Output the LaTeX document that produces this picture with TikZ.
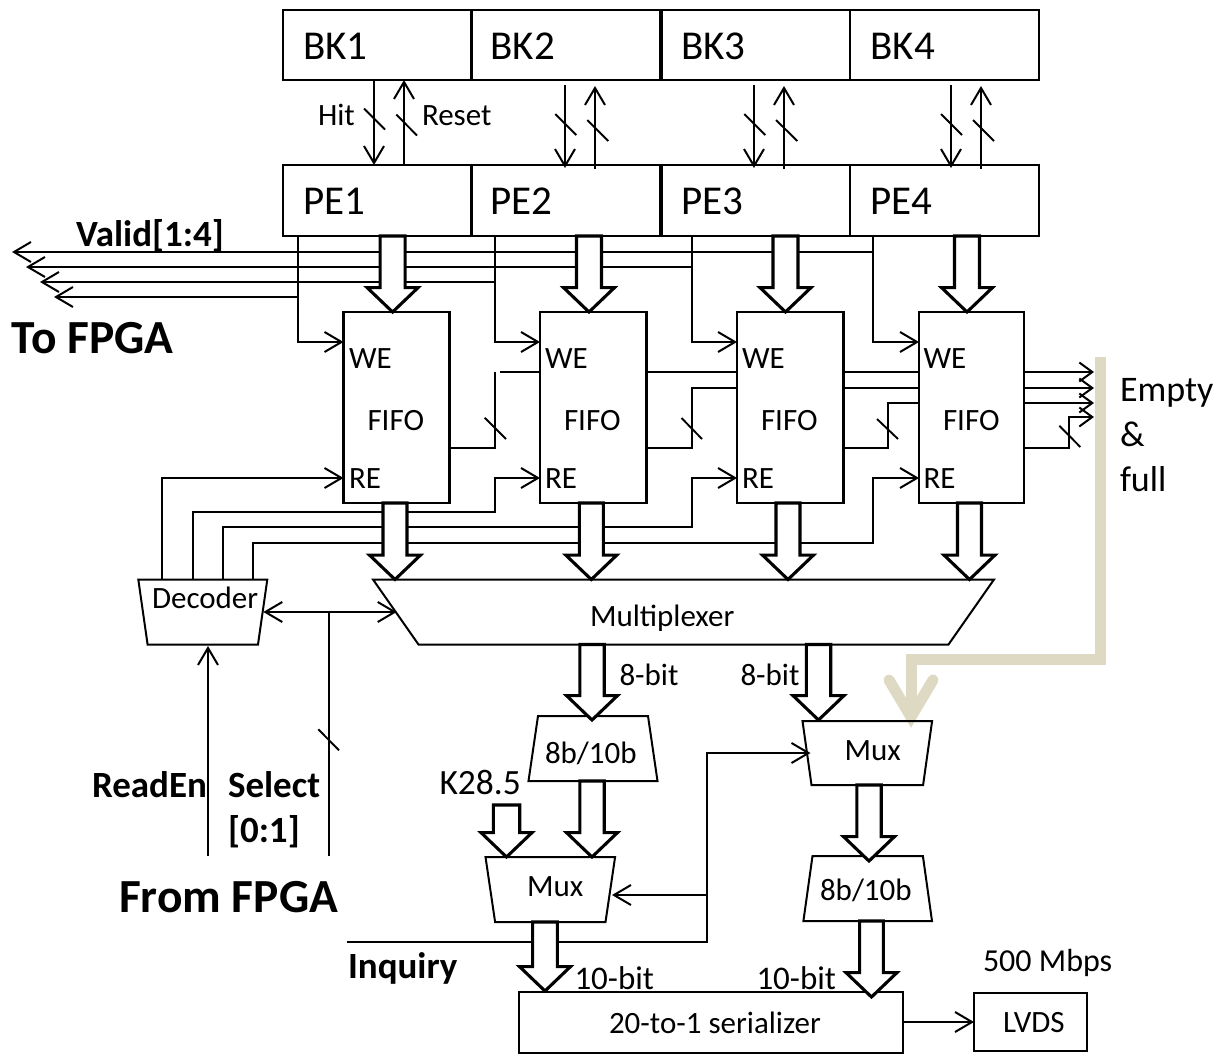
\documentclass[tikz,border=0pt]{standalone}
\usepackage{fontspec}
\setmainfont{Carlito}
\usetikzlibrary{arrows.meta,calc}
\newcommand\fs[2]{\fontsize{#1}{#2}\selectfont}
% box node from corners
\newcommand\pxrect[6]{\node[#6,minimum width={(#4-#2)*1pt},minimum height={(#5-#3)*1pt}] (#1) at ({(#2+#4)/2},{(#3+#5)/2}) {};}
% trapezoid: name, cx, ytop, ybot, top half width, bottom half width
\newcommand\pxtrap[6]{\draw[shp] ({#2-#5},#3) -- ({#2+#5},#3) -- ({#2+#6},#4) -- ({#2-#6},#4) -- cycle;
  \coordinate (#1) at (#2,{(#3+#4)/2});}
% wide arrow: start coordinate, end coordinate, shaft half, head half, head length
\newcommand\widearrow[5]{\draw[wide] ($(#1)+(-#3,0)$) -- ($(#1 |- #2)+(-#3,-#5)$) -- ($(#1 |- #2)+(-#4,-#5)$) -- (#2) -- ($(#1 |- #2)+(#4,-#5)$) -- ($(#1 |- #2)+(#3,-#5)$) -- ($(#1)+(#3,0)$) -- cycle;}
\tikzset{
  x=1pt,y=-1pt,
  box/.style={draw,line width=2pt,inner sep=0pt,outer sep=0pt},
  fifo/.style={draw,line width=2.6pt,inner sep=0pt,outer sep=0pt},
  shp/.style={draw,line width=2pt,line join=miter},
  sig/.style={line width=2pt,line cap=butt},
  sigto/.style={sig,-{Straight Barb[length=17pt,width=20pt,line width=2pt]}},
  sigtwo/.style={sig,{Straight Barb[length=17pt,width=20pt,line width=2pt]}-{Straight Barb[length=17pt,width=20pt,line width=2pt]}},
  sigshort/.style={sig,-{Straight Barb[length=13pt,width=19pt,line width=2pt]}},
  sl/.style={line width=1.9pt},
  wide/.style={draw,fill=white,line width=3.1pt,line join=miter},
  tanline/.style={draw=tanc,line width=11pt,line join=miter},
  lab/.style={inner sep=0pt,outer sep=0pt,anchor=base west,font=\fs{31}{36}},
  big/.style={lab,font=\fs{41}{48}},
  blab/.style={lab,font=\fs{37}{45}\bfseries},
  bbig/.style={lab,font=\fs{47.5}{54}\bfseries},
}
\definecolor{tanc}{HTML}{DDD9C3}
\begin{document}
\begin{tikzpicture}
\useasboundingbox (0,0) rectangle (1221,1054);
% tan arrow
\coordinate (tan0) at (1100,357);
\coordinate (tan1) at (1100,659);
\coordinate (tan2) at (911,659);
\coordinate (tanT) at (911,717);
\coordinate (tanL) at (889,680);
\coordinate (tanR) at (933,680);
\draw[tanline] (tan0) -- (tan1) -- (tan2) -- (tanT);
\draw[tanline,line cap=round] (tanL) -- (tanT) -- (tanR);
% memory row and PE row
\pxrect{bk1}{283}{10}{471}{80}{box}
\pxrect{bk2}{472}{10}{660}{80}{box}
\pxrect{bk3}{662}{10}{850}{80}{box}
\pxrect{bk4}{850}{10}{1039}{80}{box}
\pxrect{pe1}{283}{165}{471}{236}{box}
\pxrect{pe2}{472}{165}{660}{236}{box}
\pxrect{pe3}{662}{165}{850}{236}{box}
\pxrect{pe4}{850}{165}{1039}{236}{box}
\node[big] (bk1t) at (303,59.5) {BK1};
\node[big] (bk2t) at (490.5,59.5) {BK2};
\node[big] (bk3t) at (681,59.5) {BK3};
\node[big] (bk4t) at (870.5,59.5) {BK4};
\node[big] (pe1t) at (303,214.5) {PE1};
\node[big] (pe2t) at (490.5,214.5) {PE2};
\node[big] (pe3t) at (681,214.5) {PE3};
\node[big] (pe4t) at (870.5,214.5) {PE4};
% FIFOs
\pxrect{f1}{343.5}{312}{449.5}{503}{fifo}
\pxrect{f2}{540}{312}{646.7}{503}{fifo}
\pxrect{f3}{737}{312}{843.5}{503}{fifo}
\pxrect{f4}{919}{312}{1024}{503}{fifo}
\foreach \n/\xf/\xw in {f1/367.5/349,f2/564/545,f3/761/742,f4/943/923.5}{
  \node[lab] (\n t) at (\xf,430) {FIFO};
  \node[lab] (\n w) at (\xw,368) {WE};
  \node[lab] (\n r) at (\xw,488) {RE};
}
% trapezoids
\pxtrap{mult}{683.5}{579.5}{644.5}{310.5}{265}
\node[lab] (multt) at (590,626) {Multiplexer};
\pxtrap{dec}{202.8}{579.5}{644.5}{64.5}{55.2}
\node[lab] (dect) at (152,608.5) {Decoder};
\pxtrap{enc1}{593}{716}{781}{55}{64.5}
\node[lab] (enc1t) at (545,763.5) {8b/10b};
\pxtrap{mux1}{550.3}{857}{922}{64.8}{55.2}
\node[lab] (mux1t) at (527,896) {Mux};
\pxtrap{mux2}{867.3}{721}{785}{64.8}{55.8}
\node[lab] (mux2t) at (844.5,760) {Mux};
\pxtrap{enc2}{867.7}{856}{921}{55.2}{64.3}
\node[lab] (enc2t) at (820,900) {8b/10b};
\pxrect{ser}{519}{992}{903}{1052.5}{box}
\node[lab] (sert) at (609,1033) {20-to-1 serializer};
\pxrect{lvds}{974}{993}{1087}{1051}{box}
\node[lab] (lvdst) at (1003,1032) {LVDS};
% Hit / Reset links
\foreach \i/\a/\b/\ha/\hb/\qa/\qb/\ya in {
  1/374/404/364/385/396.3/417/-5.5,
  2/565/595/555.3/576.3/587.3/608.3/0,
  3/754/784/744.3/765.3/776/797.3/0,
  4/951/981/941/962/973/994/0}{
  \coordinate (hs\i) at (\a,85);
  \coordinate (ht\i) at (\a,168);
  \coordinate (qs\i) at (\b,169);
  \coordinate (qt\i) at (\b,86);
  \coordinate (ha\i) at (\ha,{114+\ya});
  \coordinate (hb\i) at (\hb,{135+\ya});
  \coordinate (qa\i) at (\qa,{120+\ya});
  \coordinate (qb\i) at (\qb,{141+\ya});
  \draw[sl] (ha\i) -- (hb\i);
  \draw[sl] (qa\i) -- (qb\i);
}
\draw[sigto] (bk1.south -| hs1) -- (pe1.north -| hs1);
\draw[sigto] (pe1.north -| qs1) -- (bk1.south -| qs1);
\foreach \i in {2,3,4}{
  \draw[sigto] (hs\i) -- (ht\i);
  \draw[sigto] (qs\i) -- (qt\i);
}
% WE lines
\coordinate (w1) at (298,342);
\coordinate (w2) at (495,342);
\coordinate (w3) at (692,342);
\coordinate (w4) at (873,342);
\foreach \i in {1,2,3,4}
  \draw[sigto] (pe\i.south -| w\i) -- (w\i) -- (f\i.west |- w\i);
% Valid outputs
\coordinate (t4) at (12,252);
\coordinate (t3) at (26,267);
\coordinate (t2) at (40,282);
\coordinate (t1) at (54,297);
\foreach \i in {1,2,3,4}
  \draw[sigto] (w\i |- t\i) -- (t\i);
% FIFO flag chain
\coordinate (c1a) at (495,448);
\coordinate (c1b) at (495,372);
\coordinate (c1c) at (499.5,372);
\draw[sig] (f1.east |- c1a) -- (c1a) -- (c1b);
\draw[sig] (c1c) -- (f2.west |- c1c);
\coordinate (c2a) at (692,448);
\coordinate (c2b) at (692,388);
\draw[sig] (f2.east |- c2a) -- (c2a) -- (c2b) -- (f3.west |- c2b);
\coordinate (c3a) at (888,448);
\coordinate (c3b) at (888,403);
\draw[sig] (f3.east |- c3a) -- (c3a) -- (c3b) -- (f4.west |- c3b);
\draw[sig] (f2.east |- c1c) -- (f3.west |- c1c);
\draw[sig] (f3.east |- c1c) -- (f4.west |- c1c);
\draw[sig] (f3.east |- c2b) -- (f4.west |- c2b);
% Empty and full outputs
\coordinate (e1) at (1094,372);
\coordinate (e2) at (1094,388);
\coordinate (e3) at (1094,403);
\coordinate (e4) at (1094,417);
\coordinate (e4a) at (1069,448);
\draw[sigshort] (f4.east |- e1) -- (e1);
\draw[sigshort] (f4.east |- e2) -- (e2);
\draw[sigshort] (f4.east |- e3) -- (e3);
\draw[sigshort] (f4.east |- e4a) -- (e4a) -- (e4a |- e4) -- (e4);
\draw[sl] (484.6,417.7) -- (506,439);
\draw[sl] (681.5,418) -- (702,439);
\draw[sl] (877,419) -- (898,439);
\draw[sl] (1059.3,425.7) -- (1080.3,447);
% RE lines
\coordinate (r1) at (162,478);
\coordinate (r2) at (495,478);
\coordinate (r3) at (692,478);
\coordinate (r4) at (873,478);
\coordinate (d2) at (193,512);
\coordinate (d3) at (223,527);
\coordinate (d4) at (253,543);
\coordinate (dectop) at (162,579.5);
\draw[sigto] (dectop) -- (r1) -- (f1.west |- r1);
\draw[sigto] (d2 |- dectop) -- (d2) -- (r2 |- d2) -- (r2) -- (f2.west |- r2);
\draw[sigto] (d3 |- dectop) -- (d3) -- (r3 |- d3) -- (r3) -- (f3.west |- r3);
\draw[sigto] (d4 |- dectop) -- (d4) -- (r4 |- d4) -- (r4) -- (f4.west |- r4);
% decoder / multiplexer
\coordinate (dr) at (263.3,612);
\coordinate (ml) at (396.7,612);
\coordinate (sel) at (329,612);
\coordinate (selb) at (329,856);
\coordinate (rdt) at (208,646);
\coordinate (rdb) at (208,856);
\draw[sigtwo] (dr) -- (ml);
\draw[sig] (sel) -- (selb);
\draw[sl] (318.3,729.3) -- (339,750.3);
\draw[sigto] (rdb) -- (rdt);
% Inquiry
\coordinate (in0) at (347,942);
\coordinate (in1) at (707,942);
\coordinate (in2) at (707,753);
\coordinate (in3) at (810.5,753);
\coordinate (in4) at (707,895);
\coordinate (in5) at (612,895);
\draw[sigto] (in0) -- (in1) -- (in2) -- (in3);
\draw[sigto] (in4) -- (in5);
% serializer output
\draw[sigto] (ser.east |- lvds.west) -- (lvds.west);
% wide arrows
\newcommand\ww[4]{\coordinate (wa#1) at (#2); \coordinate (wb#1) at (#3); \widearrow{wa#1}{wb#1}{#4}{25.5}{24.4}}
\ww{1}{392.6,236}{392.6,312}{12.5}
\ww{2}{589,236}{589,312}{12.5}
\ww{3}{785.5,236}{785.5,312}{12.5}
\ww{4}{967,236}{967,312}{12.5}
\ww{5}{395,503}{395,579.5}{12}
\ww{6}{591.3,503}{591.3,579.5}{12}
\ww{7}{788,503}{788,579.5}{12}
\ww{8}{969.5,503}{969.5,579.5}{12}
\ww{9}{592,644.5}{592,720}{12.2}
\ww{10}{818.5,644.5}{818.5,720}{12.2}
\ww{11}{592,781}{592,857}{12.2}
\ww{12}{506.5,805}{506.5,857}{13.2}
\ww{13}{869,785}{869,861}{12.2}
\ww{14}{545,922}{545,991}{12.4}
\ww{15}{871.5,921}{871.5,997}{11.9}
% labels
\node[lab] (hit) at (318,126) {Hit};
\node[lab] (reset) at (422,126) {Reset};
\node[blab] (valid) at (76,246.7) {Valid[1:4]};
\node[bbig] (tofpga) at (12,353) {To FPGA};
\node[lab,align=left,font=\fs{36}{45.3}] (empty) at (1120,491.7) {Empty\\\&\\full};
\node[blab] (readen) at (92,797) {ReadEn};
\node[blab,align=left] (select) at (228,842) {Select\\{[0:1]}};
\node[bbig] (fromfpga) at (119,912) {From FPGA};
\node[lab,font=\fs{35.5}{40}] (k285) at (439.5,794.3) {K28.5};
\node[lab] (b8a) at (619.5,685) {8-bit};
\node[lab] (b8b) at (740.5,685) {8-bit};
\node[blab] (inq) at (348,978) {Inquiry};
\node[lab,font=\fs{33}{40}] (b10a) at (574.5,989.3) {10-bit};
\node[lab,font=\fs{33}{40}] (b10b) at (756.5,989.3) {10-bit};
\node[lab,font=\fs{32}{40}] (rate) at (983,971) {500 Mbps};
\end{tikzpicture}
\end{document}
